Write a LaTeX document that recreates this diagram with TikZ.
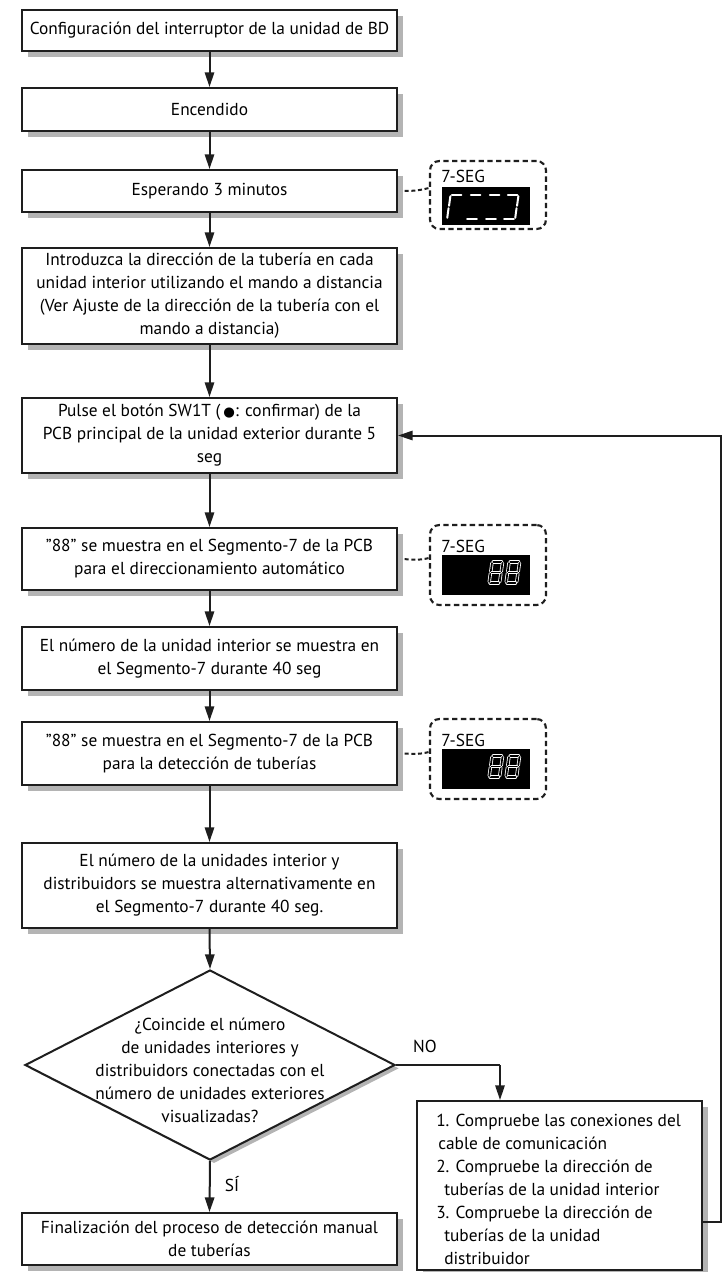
\documentclass[tikz,border=0pt]{standalone}
\usepackage{fontspec}
\setmainfont{PT Sans}
\newfontfamily\symfont{DejaVu Sans}
\usetikzlibrary{arrows.meta,shapes.geometric,shadows,calc}
\pgfdeclarelayer{background}
\pgfsetlayers{background,main}
\definecolor{shadowgray}{HTML}{B4B4B4}
\definecolor{ink}{HTML}{1E1E1E}
\newcommand\mainfs{\fontsize{13}{17.25}\selectfont}
\newcommand\qq{\symbol{"22}}
\newcommand\sga{(4,-20)--(12,-20)}
\newcommand\sgb{(12.8,-19)--(11.7,-11)}
\newcommand\sgc{(11.3,-9)--(10.2,-1)}
\newcommand\sgd{(1,0)--(9,0)}
\newcommand\sge{(1.3,-9)--(0.2,-1)}
\newcommand\sgf{(2.8,-19)--(1.7,-11)}
\newcommand\sgg{(2.5,-10)--(10.5,-10)}
\tikzset{
  digit/.pic={\foreach \s in {#1} {\draw[seg] \csname sg\s\endcsname;}},
}
\begin{document}
\begin{tikzpicture}[x=0.75pt,y=-0.75pt,
  box/.style={rectangle, draw=ink, line width=1.5pt, fill=white, inner sep=0pt,
    align=center, font=\mainfs, minimum width=281.25pt,
    drop shadow={shadow xshift=4.5pt, shadow yshift=-4.5pt, fill=shadowgray, opacity=1}},
  decision/.style={diamond, draw=ink, line width=1.5pt, fill=white, inner sep=0pt,
    minimum width=277.5pt, minimum height=142.5pt,
    drop shadow={shadow xshift=3pt, shadow yshift=-2.5pt, fill=shadowgray, opacity=1}},
  flow/.style={draw=ink, line width=1.5pt, -{Triangle[length=11pt,width=7pt]}},
  loopline/.style={draw=ink, line width=1.5pt},
  segbox/.style={rectangle, draw=ink, line width=1.6pt, dash pattern=on 4pt off 2.6pt,
    rounded corners=7pt, minimum width=87pt, fill=white},
  screen/.style={rectangle, fill=black, inner sep=0pt, minimum width=66pt},
  seglabel/.style={font=\mainfs, inner sep=0pt, anchor=base west},
  dashlink/.style={draw=ink, line width=1.5pt, dash pattern=on 3pt off 2pt},
  lbl/.style={font=\mainfs, inner sep=0pt},
]
\useasboundingbox (0,0) rectangle (728,1272);

% main column
\node[box, minimum height=30.75pt] (B1) at (209.5,30.5) {Configuración del interruptor de la unidad de BD};
\node[box, minimum height=32.25pt] (B2) at (209.5,109.5) {Encendido};
\node[box, minimum height=31.5pt] (B3) at (209.5,191) {Esperando 3 minutos};
\node[box, minimum height=72pt] (B4) at (209.5,296) {Introduzca la dirección de la tubería en cada\\unidad interior utilizando el mando a distancia\\(Ver Ajuste de la dirección de la tubería con el\\mando a distancia)};
\node[box, minimum height=56.25pt] (B5) at (209.5,435.5) {Pulse el botón SW1T (\,{\symfont\fontsize{10}{10}\selectfont ●}: confirmar) de la\\PCB principal de la unidad exterior durante 5\\seg};
\node[box, minimum height=46.5pt] (B6) at (209.5,559) {\qq 88\qq\ se muestra en el Segmento-7 de la PCB\\para el direccionamiento automático};
\node[box, minimum height=47.25pt] (B7) at (209.5,658.5) {El número de la unidad interior se muestra en\\el Segmento-7 durante 40 seg};
\node[box, minimum height=47.25pt] (B8) at (209.5,753.5) {\qq 88\qq\ se muestra en el Segmento-7 de la PCB\\para la detección de tuberías};
\node[box, minimum height=63.75pt] (B9) at (209.5,885.5) {El número de la unidades interior y\\distribuidors se muestra alternativamente en\\el Segmento-7 durante 40 seg.};
\node[decision] (D) at (210,1065) {};
\node[lbl, align=center] (Dt) at (210,1070) {¿Coincide el número\\de unidades interiores y\\distribuidors conectadas con el\\número de unidades exteriores\\visualizadas?};
\node[box, minimum height=39pt] (B10) at (209.5,1239) {Finalización del proceso de detección manual\\de tuberías};

% right check box
\node[box, minimum width=213.75pt, minimum height=126.75pt] (R) at (559.5,1185.5) {};
\node[lbl, align=left, anchor=north west] (Rt) at ($(R.north west)+(20,14)$) {1. Compruebe las conexiones del\\\hspace*{1.5pt}cable de comunicación\\2. Compruebe la dirección de\\\hspace*{6pt}tuberías de la unidad interior\\3. Compruebe la dirección de\\\hspace*{6pt}tuberías de la unidad\\\hspace*{6pt}distribuidor};

% 7-segment displays
\node[segbox, minimum height=51pt] (S1) at (488,195) {};
\node[seglabel] (S1l) at (441,182) {7-SEG};
\node[screen, minimum height=28.5pt] (S1s) at (486,206) {};
\node[segbox, minimum height=60pt] (S2) at (488,565) {};
\node[seglabel] (S2l) at (441,552) {7-SEG};
\node[screen, minimum height=30pt] (S2s) at (486,575) {};
\node[segbox, minimum height=60pt] (S3) at (488,759) {};
\node[seglabel] (S3l) at (441,746) {7-SEG};
\node[screen, minimum height=30pt] (S3s) at (486,769) {};

\begin{scope}[seg/.style={draw=white, line width=1.5pt, line cap=round}]
  \pic[scale=1.2] at (447,219) {digit={a,f,e}};
  \pic[scale=1.2] at (466,219) {digit={a,d}};
  \pic[scale=1.2] at (485,219) {digit={a,d}};
  \pic[scale=1.2] at (503,219) {digit={a,b,c,d}};
\end{scope}
\begin{scope}[seg/.style={draw=white, double=black, line width=0.6pt, double distance=1.3pt, line cap=round}]
  \pic[scale=1.05] at (489,583) {digit={a,b,c,d,e,f,g}};
  \pic[scale=1.05] at (506,583) {digit={a,b,c,d,e,f,g}};
  \pic[scale=1.05] at (489,777) {digit={a,b,c,d,e,f,g}};
  \pic[scale=1.05] at (506,777) {digit={a,b,c,d,e,f,g}};
\end{scope}

\begin{pgfonlayer}{background}
  \draw[dashlink] (B3.east) .. controls +(14,0) and +(-12,3) .. ($(S1.west)+(0,-7)$);
  \draw[dashlink] (B6.east) .. controls +(14,0) and +(-12,3) .. ($(S2.west)+(0,-7)$);
  \draw[dashlink] (B8.east) .. controls +(14,0) and +(-12,3) .. ($(S3.west)+(0,-7)$);
\end{pgfonlayer}

% connectors
\draw[flow] (B1) -- (B2);
\draw[flow] (B2) -- (B3);
\draw[flow] (B3) -- (B4);
\draw[flow] (B4) -- (B5);
\draw[flow] (B5) -- (B6);
\draw[flow] (B6) -- (B7);
\draw[flow] (B7) -- (B8);
\draw[flow] (B8) -- (B9);
\draw[flow] (B9.south) -- (D.north);
\draw[flow] (D.south) -- (B10.north);
\node[lbl] (yes) at (232,1184) {SÍ};

\coordinate (nc) at (500,1065);
\draw[loopline] (D.east) -- (nc);
\draw[flow] (nc) -- (nc |- R.north);
\node[lbl] (no) at (425,1046) {NO};

\coordinate (lc) at (721,1222);
\draw[flow] (R.east |- lc) -- (lc) -- (lc |- B5.east) -- (B5.east);
\end{tikzpicture}
\end{document}
